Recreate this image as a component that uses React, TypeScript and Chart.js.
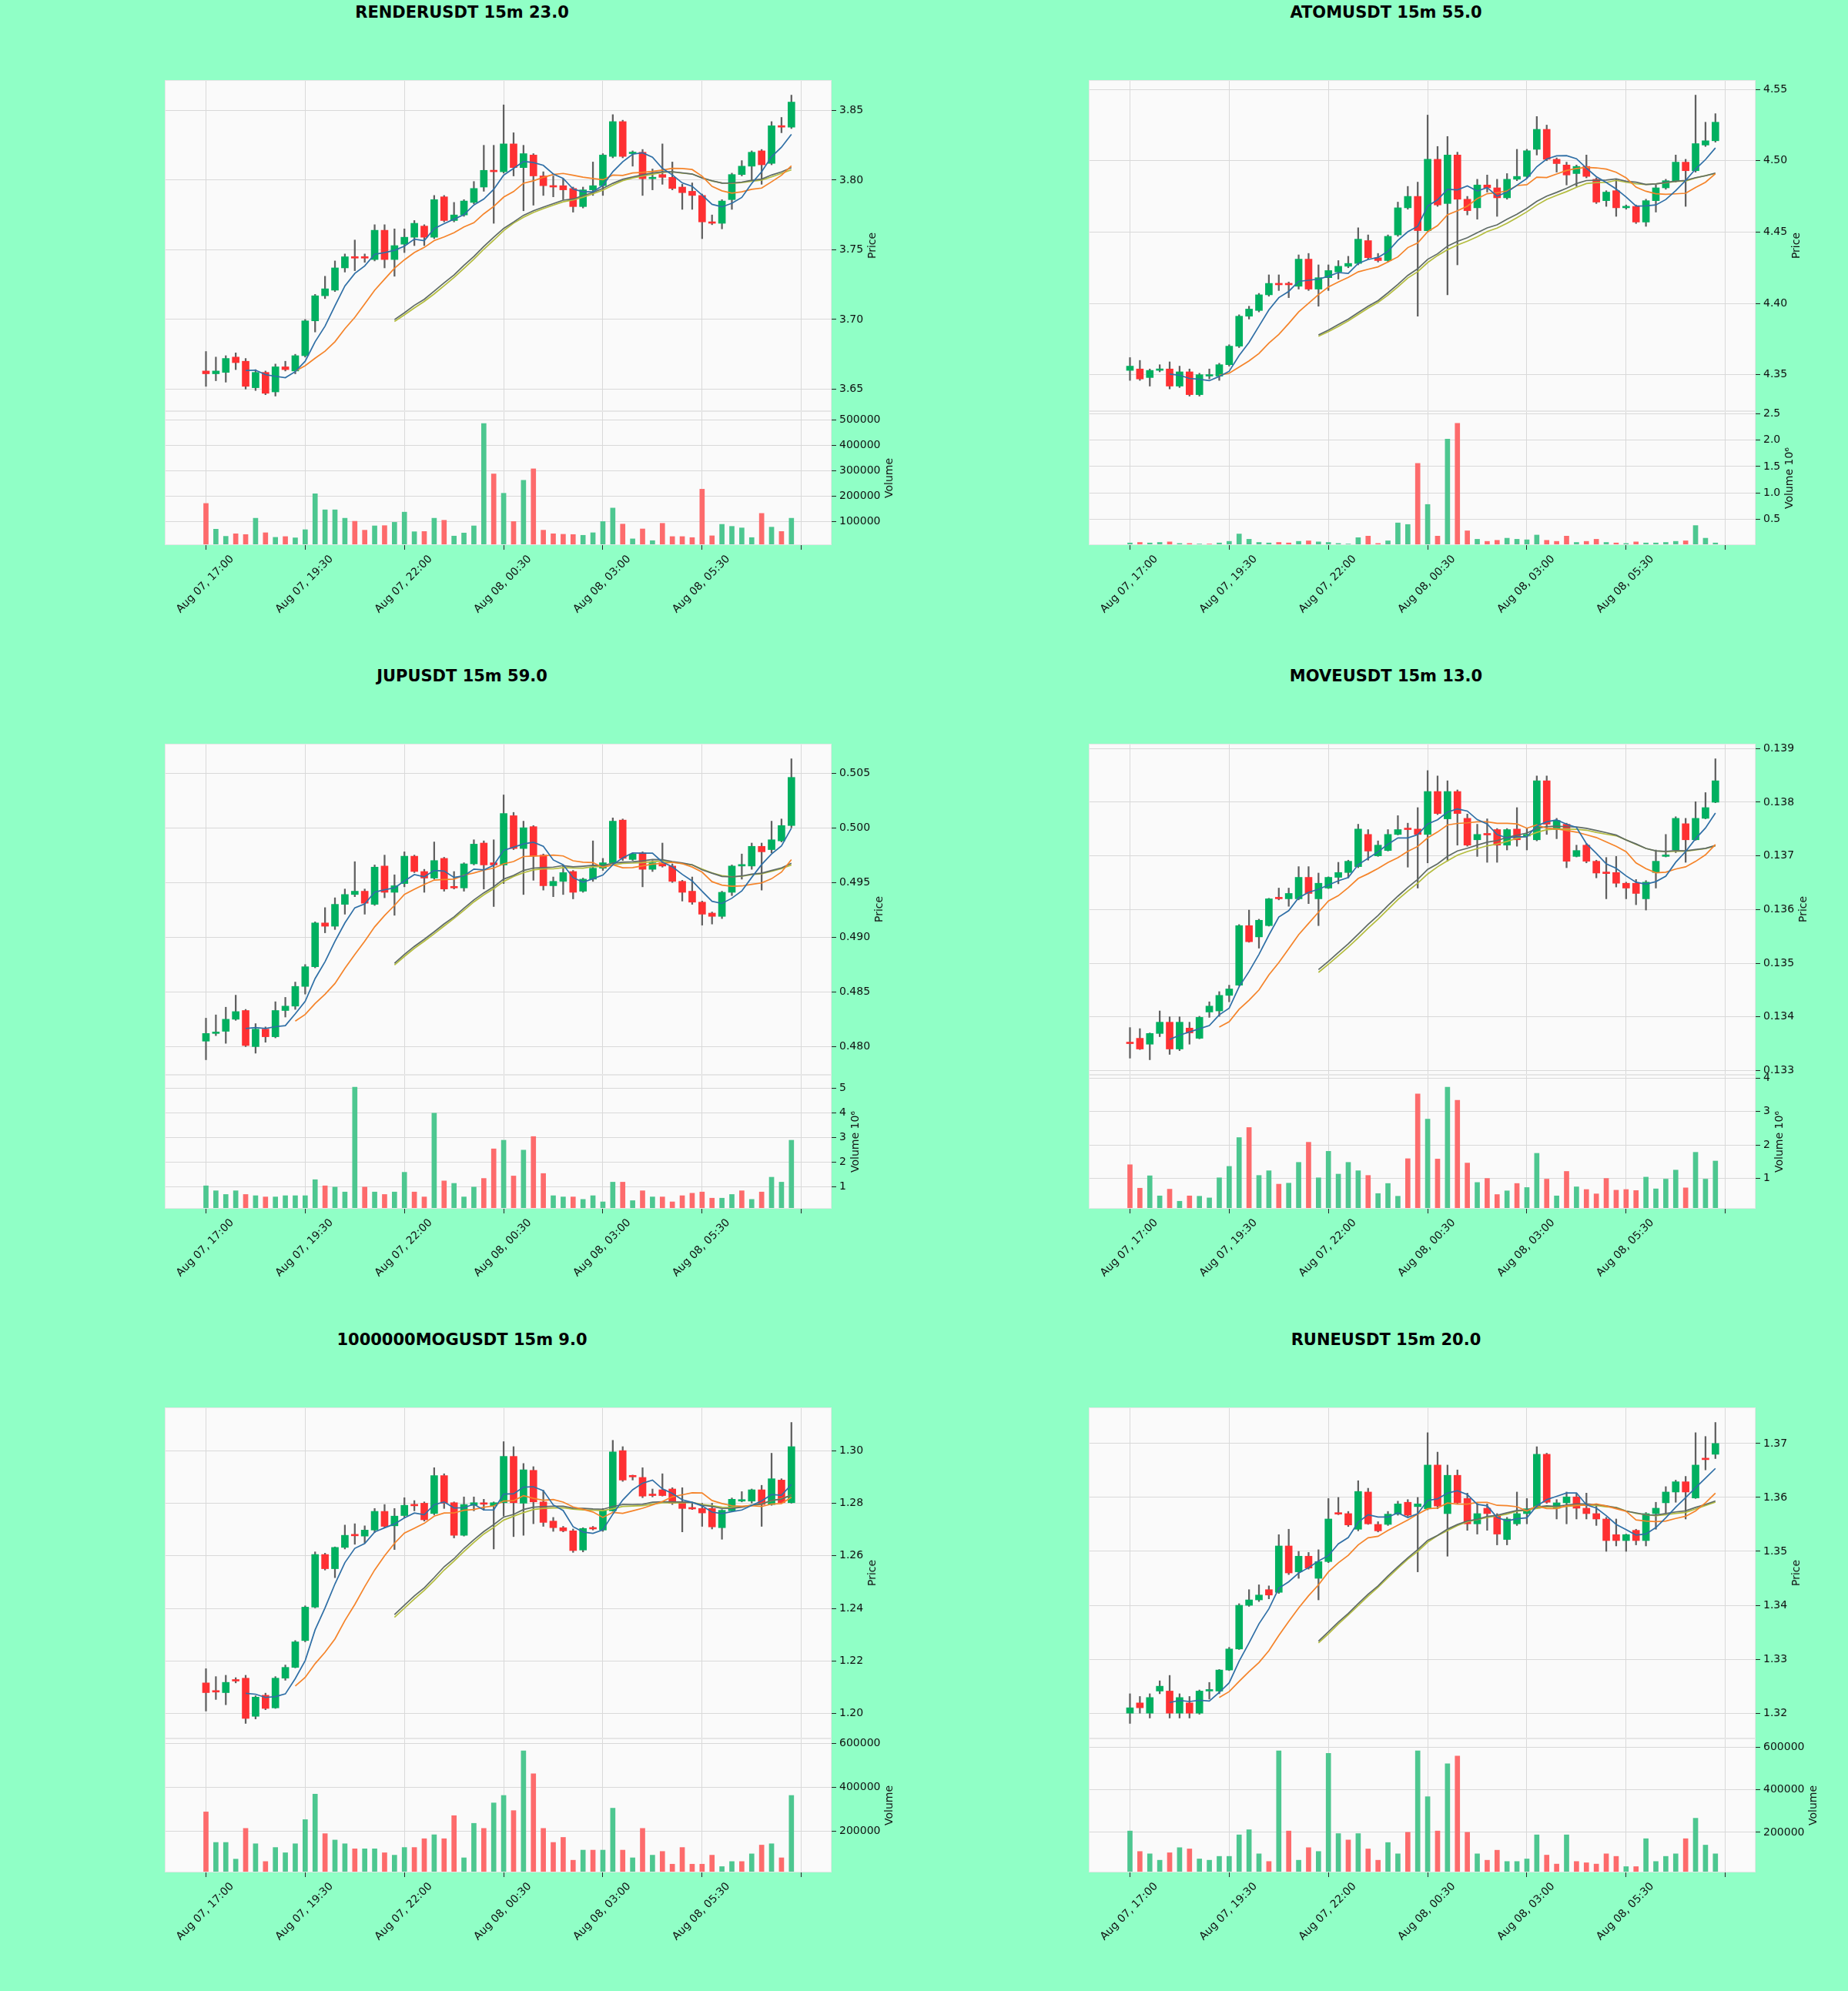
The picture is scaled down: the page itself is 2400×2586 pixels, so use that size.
import React, { useEffect, useRef } from 'react';
import { Chart, registerables } from 'chart.js';

Chart.register(...registerables);
Chart.defaults.font.family = "'DejaVu Sans', sans-serif";
Chart.defaults.font.size = 14;
Chart.defaults.color = '#101010';

const X_LABELS = ['Aug 07, 17:00', 'Aug 07, 19:30', 'Aug 07, 22:00', 'Aug 08, 00:30', 'Aug 08, 03:00', 'Aug 08, 05:30'];
const X_TICKS = [0, 10, 20, 30, 40, 50, 60];

const RENDER_OPEN = [3.663,3.661,3.662,3.673,3.670,3.651,3.662,3.648,3.666,3.663,3.674,3.699,3.717,3.721,3.737,3.745,3.745,3.743,3.764,3.743,3.754,3.759,3.767,3.759,3.788,3.771,3.775,3.784,3.795,3.807,3.806,3.826,3.809,3.818,3.803,3.796,3.796,3.794,3.781,3.793,3.796,3.817,3.842,3.819,3.820,3.801,3.804,3.802,3.795,3.792,3.789,3.770,3.769,3.786,3.804,3.810,3.821,3.812,3.839,3.838];
const RENDER_HIGH = [3.677,3.673,3.674,3.676,3.672,3.664,3.663,3.668,3.670,3.675,3.700,3.718,3.731,3.742,3.747,3.757,3.747,3.768,3.768,3.765,3.765,3.771,3.768,3.789,3.789,3.784,3.786,3.799,3.825,3.825,3.854,3.834,3.825,3.819,3.806,3.803,3.801,3.795,3.795,3.813,3.819,3.847,3.843,3.821,3.822,3.808,3.826,3.813,3.797,3.798,3.790,3.775,3.786,3.805,3.814,3.821,3.822,3.842,3.845,3.861];
const RENDER_LOW = [3.652,3.656,3.655,3.664,3.650,3.649,3.646,3.645,3.663,3.661,3.673,3.691,3.715,3.720,3.734,3.735,3.741,3.742,3.737,3.731,3.748,3.753,3.753,3.758,3.770,3.770,3.774,3.783,3.792,3.769,3.805,3.803,3.778,3.782,3.789,3.788,3.786,3.777,3.780,3.789,3.789,3.816,3.816,3.810,3.789,3.793,3.797,3.793,3.779,3.779,3.758,3.768,3.765,3.779,3.803,3.800,3.797,3.811,3.834,3.837];
const RENDER_CLOSE = [3.661,3.663,3.672,3.669,3.652,3.662,3.647,3.666,3.664,3.674,3.699,3.717,3.722,3.737,3.745,3.744,3.744,3.764,3.743,3.753,3.759,3.769,3.759,3.786,3.771,3.775,3.785,3.794,3.807,3.806,3.826,3.809,3.819,3.803,3.796,3.795,3.793,3.781,3.793,3.796,3.818,3.842,3.817,3.820,3.801,3.802,3.802,3.794,3.791,3.789,3.770,3.769,3.785,3.804,3.810,3.820,3.811,3.839,3.838,3.856];
const RENDER_VOLUME = [171000,70000,42000,52000,49000,113000,56000,38000,41000,36000,68000,209000,146000,146000,113000,101000,66000,83000,84000,97000,137000,60000,61000,113000,105000,43000,55000,83000,485000,287000,211000,100000,262000,307000,66000,52000,50000,49000,46000,56000,100000,153000,90000,32000,71000,25000,93000,41000,41000,37000,227000,44000,89000,81000,75000,37000,132000,78000,61000,113000];

const ATOM_OPEN = [4.353,4.354,4.348,4.353,4.354,4.342,4.352,4.336,4.349,4.349,4.357,4.370,4.391,4.395,4.406,4.414,4.414,4.412,4.431,4.410,4.418,4.422,4.426,4.428,4.444,4.432,4.430,4.448,4.467,4.475,4.451,4.501,4.470,4.504,4.473,4.467,4.483,4.481,4.474,4.487,4.489,4.508,4.522,4.501,4.497,4.491,4.496,4.487,4.472,4.479,4.467,4.468,4.457,4.472,4.481,4.486,4.499,4.493,4.511,4.514];
const ATOM_HIGH = [4.362,4.360,4.354,4.357,4.359,4.356,4.354,4.351,4.354,4.358,4.371,4.392,4.398,4.407,4.420,4.420,4.415,4.434,4.435,4.427,4.427,4.430,4.433,4.453,4.448,4.435,4.448,4.471,4.482,4.485,4.532,4.510,4.517,4.506,4.475,4.487,4.490,4.487,4.491,4.508,4.508,4.531,4.525,4.502,4.499,4.497,4.504,4.488,4.479,4.487,4.469,4.469,4.473,4.483,4.487,4.504,4.501,4.546,4.527,4.533];
const ATOM_LOW = [4.346,4.346,4.342,4.352,4.340,4.341,4.335,4.335,4.347,4.346,4.356,4.369,4.389,4.394,4.405,4.409,4.404,4.410,4.409,4.398,4.409,4.417,4.425,4.427,4.431,4.429,4.429,4.447,4.466,4.391,4.450,4.468,4.406,4.427,4.462,4.459,4.478,4.461,4.473,4.486,4.488,4.504,4.500,4.492,4.483,4.482,4.488,4.470,4.468,4.461,4.466,4.456,4.454,4.464,4.480,4.485,4.468,4.492,4.510,4.513];
const ATOM_CLOSE = [4.356,4.347,4.353,4.354,4.342,4.352,4.336,4.350,4.349,4.357,4.370,4.391,4.396,4.406,4.414,4.413,4.413,4.431,4.410,4.418,4.423,4.426,4.428,4.445,4.432,4.430,4.447,4.467,4.475,4.451,4.501,4.469,4.504,4.473,4.465,4.483,4.481,4.474,4.487,4.489,4.507,4.522,4.501,4.498,4.490,4.496,4.489,4.471,4.478,4.467,4.468,4.457,4.472,4.481,4.486,4.499,4.493,4.512,4.514,4.527];
const ATOM_VOLUME = [50000,60000,50000,60000,70000,40000,40000,30000,30000,50000,80000,220000,120000,60000,50000,60000,50000,80000,90000,70000,60000,40000,30000,150000,180000,40000,90000,430000,400000,1560000,780000,180000,2020000,2320000,280000,120000,80000,100000,140000,120000,110000,200000,100000,80000,180000,60000,80000,120000,60000,50000,40000,70000,50000,50000,60000,80000,90000,380000,140000,50000];

const JUP_OPEN = [0.4805,0.4812,0.4814,0.4825,0.4833,0.4800,0.4816,0.4809,0.4833,0.4837,0.4855,0.4873,0.4913,0.4910,0.4930,0.4939,0.4942,0.4930,0.4965,0.4941,0.4949,0.4974,0.4960,0.4954,0.4972,0.4946,0.4945,0.4967,0.4986,0.4968,0.4966,0.5011,0.4981,0.5001,0.4975,0.4947,0.4951,0.4960,0.4942,0.4953,0.4963,0.4968,0.5007,0.4971,0.4977,0.4962,0.4968,0.4965,0.4951,0.4942,0.4932,0.4922,0.4919,0.4941,0.4965,0.4965,0.4983,0.4980,0.4988,0.5002];
const JUP_HIGH = [0.4826,0.4829,0.4836,0.4847,0.4834,0.4821,0.4818,0.4841,0.4845,0.4859,0.4875,0.4914,0.4927,0.4936,0.4944,0.4969,0.4944,0.4966,0.4975,0.4957,0.4978,0.4975,0.4962,0.4987,0.4973,0.4960,0.4968,0.4989,0.4988,0.4989,0.5030,0.5014,0.5006,0.5002,0.4976,0.4955,0.4966,0.4961,0.4954,0.4988,0.4972,0.5009,0.5008,0.4977,0.4978,0.4970,0.4986,0.4967,0.4952,0.4955,0.4933,0.4923,0.4942,0.4966,0.4976,0.4986,0.4986,0.5006,0.5008,0.5063];
const JUP_LOW = [0.4788,0.4810,0.4803,0.4824,0.4800,0.4794,0.4804,0.4808,0.4827,0.4834,0.4848,0.4872,0.4904,0.4907,0.4921,0.4937,0.4921,0.4929,0.4936,0.4920,0.4946,0.4959,0.4941,0.4953,0.4942,0.4944,0.4942,0.4966,0.4944,0.4928,0.4949,0.4980,0.4939,0.4952,0.4943,0.4937,0.4939,0.4935,0.4941,0.4951,0.4961,0.4967,0.4970,0.4970,0.4946,0.4960,0.4964,0.4950,0.4933,0.4930,0.4911,0.4912,0.4917,0.4938,0.4953,0.4962,0.4943,0.4977,0.4987,0.5000];
const JUP_CLOSE = [0.4812,0.4813,0.4825,0.4832,0.4801,0.4816,0.4809,0.4833,0.4837,0.4855,0.4873,0.4913,0.4910,0.4930,0.4939,0.4942,0.4931,0.4964,0.4941,0.4947,0.4974,0.4960,0.4954,0.4970,0.4944,0.4945,0.4967,0.4985,0.4966,0.4966,0.5013,0.4981,0.5000,0.4974,0.4947,0.4951,0.4959,0.4941,0.4953,0.4963,0.4968,0.5006,0.4972,0.4976,0.4962,0.4968,0.4965,0.4951,0.4941,0.4932,0.4921,0.4919,0.4941,0.4965,0.4965,0.4983,0.4978,0.4989,0.5002,0.5046];
const JUP_VOLUME = [1050000,850000,700000,850000,700000,650000,600000,600000,650000,650000,650000,1300000,1050000,1000000,800000,5050000,1000000,800000,700000,800000,1600000,800000,600000,4000000,1250000,1150000,600000,1000000,1350000,2550000,2900000,1450000,2500000,3050000,1550000,650000,600000,600000,500000,650000,400000,1200000,1200000,450000,850000,600000,600000,400000,650000,750000,800000,550000,550000,700000,850000,500000,800000,1400000,1200000,2900000];

const MOVE_OPEN = [0.13352,0.13360,0.13349,0.13369,0.13390,0.13340,0.13379,0.13360,0.13409,0.13411,0.13440,0.13459,0.13570,0.13549,0.13570,0.13621,0.13620,0.13620,0.13660,0.13620,0.13640,0.13660,0.13669,0.13680,0.13740,0.13700,0.13710,0.13740,0.13750,0.13750,0.13740,0.13820,0.13769,0.13820,0.13770,0.13730,0.13740,0.13749,0.13720,0.13750,0.13737,0.13730,0.13840,0.13749,0.13759,0.13699,0.13720,0.13690,0.13670,0.13669,0.13649,0.13649,0.13620,0.13669,0.13699,0.13711,0.13760,0.13730,0.13770,0.13800];
const MOVE_HIGH = [0.13380,0.13378,0.13370,0.13411,0.13400,0.13400,0.13390,0.13401,0.13428,0.13447,0.13459,0.13572,0.13599,0.13582,0.13621,0.13640,0.13640,0.13680,0.13680,0.13668,0.13661,0.13688,0.13692,0.13759,0.13749,0.13728,0.13749,0.13775,0.13761,0.13790,0.13859,0.13849,0.13840,0.13823,0.13778,0.13759,0.13769,0.13751,0.13751,0.13790,0.13751,0.13849,0.13849,0.13770,0.13761,0.13720,0.13723,0.13692,0.13697,0.13699,0.13651,0.13656,0.13654,0.13711,0.13740,0.13773,0.13770,0.13801,0.13818,0.13881];
const MOVE_LOW = [0.13323,0.13339,0.13320,0.13363,0.13330,0.13337,0.13349,0.13359,0.13399,0.13401,0.13428,0.13458,0.13539,0.13528,0.13569,0.13618,0.13606,0.13618,0.13611,0.13570,0.13639,0.13648,0.13659,0.13678,0.13692,0.13699,0.13709,0.13739,0.13679,0.13640,0.13687,0.13777,0.13690,0.13720,0.13718,0.13699,0.13688,0.13688,0.13711,0.13718,0.13711,0.13728,0.13740,0.13732,0.13678,0.13698,0.13687,0.13659,0.13620,0.13642,0.13620,0.13609,0.13599,0.13640,0.13698,0.13706,0.13688,0.13729,0.13769,0.13799];
const MOVE_CLOSE = [0.13350,0.13340,0.13369,0.13390,0.13340,0.13390,0.13370,0.13399,0.13420,0.13440,0.13452,0.13570,0.13540,0.13580,0.13620,0.13620,0.13630,0.13660,0.13630,0.13649,0.13660,0.13669,0.13690,0.13750,0.13709,0.13720,0.13740,0.13749,0.13749,0.13740,0.13820,0.13779,0.13820,0.13779,0.13720,0.13740,0.13739,0.13720,0.13749,0.13730,0.13740,0.13840,0.13759,0.13766,0.13690,0.13710,0.13690,0.13668,0.13667,0.13649,0.13640,0.13630,0.13651,0.13690,0.13700,0.13770,0.13730,0.13770,0.13790,0.13840];
const MOVE_VOLUME = [1410000,710000,1080000,480000,680000,320000,480000,470000,420000,1020000,1360000,2220000,2520000,1090000,1230000,830000,860000,1480000,2080000,1020000,1810000,1130000,1480000,1230000,1090000,550000,850000,470000,1590000,3520000,2770000,1580000,3720000,3330000,1460000,880000,1000000,520000,630000,850000,730000,1750000,980000,480000,1210000,750000,670000,540000,1000000,650000,670000,640000,1040000,690000,980000,1250000,720000,1780000,980000,1520000];

const MOG_OPEN = [1.2117,1.2088,1.2080,1.2127,1.2135,1.1990,1.2070,1.2022,1.2135,1.2176,1.2278,1.2405,1.2605,1.2551,1.2632,1.2678,1.2675,1.2698,1.2769,1.2714,1.2753,1.2795,1.2800,1.2761,1.2905,1.2802,1.2678,1.2792,1.2800,1.2790,1.2802,1.2978,1.2800,1.2925,1.2805,1.2732,1.2707,1.2695,1.2622,1.2707,1.2698,1.2771,1.3000,1.2902,1.2898,1.2831,1.2851,1.2854,1.2802,1.2780,1.2780,1.2780,1.2707,1.2771,1.2808,1.2808,1.2851,1.2795,1.2888,1.2802];
const MOG_HIGH = [1.2171,1.2141,1.2146,1.2137,1.2146,1.2068,1.2078,1.2141,1.2185,1.2278,1.2410,1.2615,1.2610,1.2634,1.2717,1.2722,1.2714,1.2780,1.2795,1.2780,1.2821,1.2810,1.2805,1.2935,1.2912,1.2805,1.2824,1.2824,1.2815,1.2805,1.3034,1.3015,1.2951,1.2939,1.2849,1.2746,1.2712,1.2702,1.2707,1.2712,1.2780,1.3039,1.3015,1.2907,1.2935,1.2854,1.2912,1.2859,1.2859,1.2800,1.2800,1.2800,1.2776,1.2820,1.2844,1.2854,1.2868,1.2990,1.2893,1.3107];
const MOG_LOW = [1.2010,1.2054,1.2034,1.2117,1.1963,1.1980,1.2015,1.2020,1.2127,1.2174,1.2273,1.2402,1.2546,1.2517,1.2626,1.2644,1.2649,1.2688,1.2707,1.2624,1.2746,1.2771,1.2732,1.2756,1.2780,1.2668,1.2675,1.2771,1.2773,1.2626,1.2751,1.2673,1.2678,1.2722,1.2712,1.2693,1.2691,1.2613,1.2615,1.2698,1.2693,1.2769,1.2883,1.2888,1.2821,1.2824,1.2827,1.2795,1.2691,1.2776,1.2712,1.2702,1.2663,1.2769,1.2805,1.2800,1.2712,1.2792,1.2800,1.2800];
const MOG_CLOSE = [1.2080,1.2082,1.2119,1.2124,1.1982,1.2063,1.2020,1.2135,1.2176,1.2273,1.2405,1.2605,1.2551,1.2632,1.2678,1.2676,1.2698,1.2769,1.2712,1.2751,1.2792,1.2790,1.2737,1.2905,1.2800,1.2678,1.2795,1.2802,1.2796,1.2802,1.2978,1.2802,1.2927,1.2805,1.2727,1.2707,1.2695,1.2620,1.2704,1.2702,1.2771,1.2995,1.2888,1.2900,1.2827,1.2829,1.2829,1.2800,1.2780,1.2778,1.2763,1.2710,1.2773,1.2815,1.2810,1.2851,1.2795,1.2893,1.2802,1.3015];
const MOG_VOLUME = [287000,148000,148000,72000,212000,142000,61000,125000,101000,142000,252000,368000,188000,159000,142000,119000,119000,119000,101000,90000,125000,125000,165000,183000,165000,270000,78000,235000,212000,328000,362000,293000,565000,461000,212000,148000,171000,67000,113000,113000,113000,304000,113000,78000,212000,90000,107000,49000,125000,49000,49000,90000,38000,61000,61000,96000,136000,142000,78000,362000];

const RUNE_OPEN = [1.3200,1.3219,1.3200,1.3241,1.3241,1.3200,1.3219,1.3200,1.3241,1.3241,1.3280,1.3319,1.3400,1.3410,1.3429,1.3424,1.3510,1.3462,1.3491,1.3450,1.3481,1.3571,1.3570,1.3541,1.3610,1.3550,1.3550,1.3569,1.3591,1.3583,1.3579,1.3660,1.3570,1.3641,1.3598,1.3551,1.3580,1.3567,1.3522,1.3551,1.3570,1.3580,1.3680,1.3580,1.3590,1.3601,1.3580,1.3570,1.3560,1.3531,1.3520,1.3539,1.3520,1.3570,1.3590,1.3610,1.3629,1.3599,1.3671,1.3680];
const RUNE_HIGH = [1.3236,1.3231,1.3236,1.3260,1.3270,1.3236,1.3231,1.3243,1.3257,1.3281,1.3322,1.3403,1.3429,1.3438,1.3436,1.3531,1.3541,1.3500,1.3498,1.3503,1.3598,1.3600,1.3574,1.3631,1.3617,1.3555,1.3574,1.3593,1.3596,1.3600,1.3720,1.3684,1.3660,1.3651,1.3608,1.3589,1.3588,1.3570,1.3563,1.3610,1.3598,1.3694,1.3682,1.3596,1.3610,1.3608,1.3608,1.3584,1.3563,1.3560,1.3532,1.3541,1.3572,1.3591,1.3620,1.3632,1.3639,1.3720,1.3713,1.3739];
const RUNE_LOW = [1.3181,1.3200,1.3191,1.3236,1.3191,1.3191,1.3191,1.3198,1.3226,1.3236,1.3279,1.3318,1.3398,1.3407,1.3412,1.3422,1.3457,1.3450,1.3467,1.3410,1.3479,1.3568,1.3546,1.3538,1.3550,1.3536,1.3548,1.3567,1.3565,1.3462,1.3577,1.3579,1.3491,1.3589,1.3539,1.3532,1.3539,1.3512,1.3512,1.3548,1.3551,1.3579,1.3589,1.3560,1.3551,1.3560,1.3560,1.3548,1.3500,1.3510,1.3500,1.3512,1.3510,1.3541,1.3570,1.3591,1.3560,1.3598,1.3651,1.3672];
const RUNE_CLOSE = [1.3210,1.3210,1.3229,1.3250,1.3200,1.3229,1.3200,1.3241,1.3242,1.3280,1.3319,1.3400,1.3410,1.3419,1.3419,1.3510,1.3460,1.3491,1.3469,1.3481,1.3560,1.3569,1.3549,1.3611,1.3551,1.3538,1.3569,1.3588,1.3567,1.3588,1.3660,1.3584,1.3641,1.3590,1.3551,1.3570,1.3570,1.3532,1.3560,1.3570,1.3579,1.3680,1.3591,1.3590,1.3601,1.3580,1.3570,1.3560,1.3520,1.3520,1.3531,1.3520,1.3570,1.3580,1.3610,1.3629,1.3610,1.3660,1.3670,1.3700];
const RUNE_VOLUME = [206000,110000,99000,69000,104000,128000,122000,75000,69000,87000,87000,188000,212000,99000,63000,582000,206000,69000,128000,110000,570000,194000,164000,194000,122000,69000,152000,99000,200000,582000,367000,206000,522000,558000,200000,99000,69000,116000,63000,63000,75000,188000,93000,51000,188000,63000,57000,51000,99000,87000,39000,39000,170000,63000,87000,99000,170000,266000,140000,99000];

type PanelSpec = {
  title: string;
  open: number[]; high: number[]; low: number[]; close: number[]; volume: number[];
  priceStep: number; priceDecimals: number;
  volStep: number; volScale: number; volDecimals: number;
};

const PANELS: PanelSpec[] = [
  { title: 'RENDERUSDT 15m 23.0', open: RENDER_OPEN, high: RENDER_HIGH, low: RENDER_LOW, close: RENDER_CLOSE, volume: RENDER_VOLUME, priceStep: 0.05, priceDecimals: 2, volStep: 100000, volScale: 1, volDecimals: 0 },
  { title: 'ATOMUSDT 15m 55.0', open: ATOM_OPEN, high: ATOM_HIGH, low: ATOM_LOW, close: ATOM_CLOSE, volume: ATOM_VOLUME, priceStep: 0.05, priceDecimals: 2, volStep: 500000, volScale: 1e6, volDecimals: 1 },
  { title: 'JUPUSDT 15m 59.0', open: JUP_OPEN, high: JUP_HIGH, low: JUP_LOW, close: JUP_CLOSE, volume: JUP_VOLUME, priceStep: 0.005, priceDecimals: 3, volStep: 1000000, volScale: 1e6, volDecimals: 0 },
  { title: 'MOVEUSDT 15m 13.0', open: MOVE_OPEN, high: MOVE_HIGH, low: MOVE_LOW, close: MOVE_CLOSE, volume: MOVE_VOLUME, priceStep: 0.001, priceDecimals: 3, volStep: 1000000, volScale: 1e6, volDecimals: 0 },
  { title: '1000000MOGUSDT 15m 9.0', open: MOG_OPEN, high: MOG_HIGH, low: MOG_LOW, close: MOG_CLOSE, volume: MOG_VOLUME, priceStep: 0.02, priceDecimals: 2, volStep: 200000, volScale: 1, volDecimals: 0 },
  { title: 'RUNEUSDT 15m 20.0', open: RUNE_OPEN, high: RUNE_HIGH, low: RUNE_LOW, close: RUNE_CLOSE, volume: RUNE_VOLUME, priceStep: 0.01, priceDecimals: 2, volStep: 200000, volScale: 1, volDecimals: 0 },
];

const MINT = '#90ffc6';
const FACE = '#fafafa';
const GRID = '#d9d9d9';
const TICK_COLOR = '#222222';
const UP = '#00b060';
const DOWN = '#fe3032';
const WICK = '#606060';
const VOL_UP = '#4dc790';
const VOL_DOWN = '#fd6b6c';

const CELL_W = 1200;
const CELL_H = 862;
const PLOT_LEFT = 214;
const PLOT_W = 866;
const AXIS_W = 120;
const PRICE_TOP = 104;
const PRICE_BOTTOM = 534;
const VOL_BOTTOM = 708;
const PAD = 12;
const X_AXIS_H = 140;
const X_MIN = -4.15;
const X_MAX = 63.05;

function sma(src: number[], n: number): (number | null)[] {
  return src.map((_, i) => {
    if (i < n - 1) return null;
    let s = 0;
    for (let k = i - n + 1; k <= i; k++) s += src[k];
    return s / n;
  });
}

function stepTicks(min: number, max: number, step: number): number[] {
  const out: number[] = [];
  for (let k = Math.ceil(min / step - 1e-9); k * step <= max + 1e-12; k++) {
    out.push(Number((k * step).toFixed(10)));
  }
  return out;
}

function textWidth(s: string): number {
  let w = 0;
  for (const ch of s) w += ch === '.' ? 4.45 : 8.9;
  return w;
}

const plotBg = {
  id: 'plotBg',
  beforeDraw(chart: any) {
    const { ctx, chartArea: a } = chart;
    ctx.save();
    ctx.fillStyle = FACE;
    ctx.fillRect(a.left, a.top, a.right - a.left, a.bottom - a.top);
    ctx.restore();
  },
  afterDraw(chart: any) {
    const { ctx, chartArea: a } = chart;
    ctx.save();
    ctx.strokeStyle = '#e6e6e6';
    ctx.lineWidth = 1;
    ctx.strokeRect(a.left + 0.5, a.top + 0.5, a.right - a.left - 1, a.bottom - a.top - 1);
    ctx.restore();
  },
};

function xScale(showLabels: boolean) {
  return {
    type: 'linear',
    min: X_MIN,
    max: X_MAX,
    offset: false,
    afterBuildTicks: (s: any) => { s.ticks = X_TICKS.map((v) => ({ value: v })); },
    afterFit: (s: any) => { s.height = showLabels ? X_AXIS_H : 0; s.paddingLeft = 0; s.paddingRight = 0; },
    grid: { color: GRID, offset: false, drawTicks: showLabels, tickLength: 6, tickColor: TICK_COLOR },
    border: { display: false },
    ticks: {
      display: showLabels,
      autoSkip: false,
      maxRotation: 45,
      minRotation: 45,
      labelOffset: 34,
      padding: 4,
      color: '#101010',
      font: { size: 14 },
      callback: (v: any) => X_LABELS[Math.round(Number(v) / 10)] ?? '',
    },
  };
}

function Panel({ spec, left, top }: { spec: PanelSpec; left: number; top: number }) {
  const priceRef = useRef<HTMLCanvasElement>(null);
  const volRef = useRef<HTMLCanvasElement>(null);

  const hi = Math.max(...spec.high);
  const lo = Math.min(...spec.low);
  const yMin = lo - (hi - lo) * 0.05;
  const yMax = hi + (hi - lo) * 0.05;
  const vMin = Math.min(...spec.volume) * 0.3;
  const vMax = Math.max(...spec.volume) * 1.1;
  const priceTicks = stepTicks(yMin, yMax, spec.priceStep);
  const volTicks = stepTicks(vMin, vMax, spec.volStep).filter((v) => v > 0);
  const priceLabels = priceTicks.map((v) => v.toFixed(spec.priceDecimals));
  const volLabels = volTicks.map((v) => (v / spec.volScale).toFixed(spec.volDecimals));
  const priceLabelW = Math.max(...priceLabels.map(textWidth));
  const volLabelW = Math.max(...volLabels.map(textWidth));

  useEffect(() => {
    const n = spec.close.length;
    const idx = Array.from({ length: n }, (_, i) => i);
    const typical = idx.map((i) => (spec.high[i] + spec.low[i] + spec.close[i]) / 3);
    const ma5 = sma(spec.close, 5);
    const ma10 = sma(spec.close, 10);
    const ma20 = sma(spec.close, 20);
    const ma20t = sma(typical, 20);
    const candleColors = idx.map((i) => (spec.close[i] >= spec.open[i] ? UP : DOWN));
    const volColors = idx.map((i) => {
      const up = i === 0 ? spec.close[0] >= spec.open[0] : spec.close[i] > spec.close[i - 1];
      return up ? VOL_UP : VOL_DOWN;
    });
    const line = (data: (number | null)[], color: string, order: number) => ({
      type: 'line',
      data: data.map((v, i) => ({ x: i, y: v })),
      borderColor: color,
      borderWidth: 1.7,
      pointRadius: 0,
      tension: 0,
      spanGaps: false,
      order,
    });

    const priceChart = new Chart(priceRef.current as HTMLCanvasElement, {
      type: 'bar',
      data: {
        datasets: [
          line(ma5, '#2f6fa6', 0),
          line(ma10, '#f5842a', 1),
          line(ma20t, '#b4bd3e', 2),
          line(ma20, '#5f6b66', 1.5),
          {
            type: 'bar',
            data: idx.map((i) => ({ x: i, y: [spec.open[i], spec.close[i]] })),
            backgroundColor: candleColors,
            barThickness: 9,
            grouped: false,
            minBarLength: 2,
            borderWidth: 0,
            order: 5,
          },
          {
            type: 'bar',
            data: idx.map((i) => ({ x: i, y: [spec.low[i], spec.high[i]] })),
            backgroundColor: WICK,
            barThickness: 1.6,
            grouped: false,
            borderWidth: 0,
            order: 6,
          },
        ] as any,
      },
      options: {
        responsive: false,
        animation: false,
        events: [],
        layout: { padding: { top: PAD, bottom: PAD, left: 0, right: 0 } },
        plugins: { legend: { display: false }, tooltip: { enabled: false } },
        scales: {
          x: xScale(false) as any,
          y: {
            type: 'linear',
            position: 'right',
            min: yMin,
            max: yMax,
            afterBuildTicks: (s: any) => { s.ticks = priceTicks.map((v) => ({ value: v })); },
            afterFit: (s: any) => { s.width = AXIS_W; s.paddingTop = 0; s.paddingBottom = 0; },
            grid: { color: GRID, tickLength: 6, tickColor: TICK_COLOR },
            border: { display: false },
            ticks: { padding: 4, color: '#101010', font: { size: 14 }, callback: (v: any) => Number(v).toFixed(spec.priceDecimals) },
          } as any,
        },
      },
      plugins: [plotBg],
    });

    const volChart = new Chart(volRef.current as HTMLCanvasElement, {
      type: 'bar',
      data: {
        datasets: [
          {
            data: idx.map((i) => ({ x: i, y: spec.volume[i] })),
            backgroundColor: volColors,
            barThickness: 6,
            grouped: false,
            borderWidth: 0,
          },
        ] as any,
      },
      options: {
        responsive: false,
        animation: false,
        events: [],
        layout: { padding: { top: PAD, bottom: 0, left: 0, right: 0 } },
        plugins: { legend: { display: false }, tooltip: { enabled: false } },
        scales: {
          x: xScale(true) as any,
          y: {
            type: 'linear',
            position: 'right',
            min: vMin,
            max: vMax,
            afterBuildTicks: (s: any) => { s.ticks = volTicks.map((v) => ({ value: v })); },
            afterFit: (s: any) => { s.width = AXIS_W; s.paddingTop = 0; s.paddingBottom = 0; },
            grid: { color: GRID, tickLength: 6, tickColor: TICK_COLOR },
            border: { display: false },
            ticks: { padding: 4, color: '#101010', font: { size: 14 }, callback: (v: any) => (Number(v) / spec.volScale).toFixed(spec.volDecimals) },
          } as any,
        },
      },
      plugins: [plotBg],
    });

    return () => {
      priceChart.destroy();
      volChart.destroy();
    };
  }, [spec]);

  const priceCanvasH = PRICE_BOTTOM - PRICE_TOP + 2 * PAD;
  const volCanvasH = VOL_BOTTOM - PRICE_BOTTOM + PAD + X_AXIS_H;
  const canvasW = PLOT_W + AXIS_W;
  const axisTextStyle: React.CSSProperties = {
    position: 'absolute',
    transform: 'translate(-50%, -50%) rotate(-90deg)',
    whiteSpace: 'nowrap',
    fontFamily: "'DejaVu Sans', sans-serif",
    fontSize: 14,
    color: '#101010',
    lineHeight: '16px',
  };

  return (
    <div style={{ position: 'absolute', left, top, width: CELL_W, height: CELL_H }}>
      <div
        style={{
          position: 'absolute', left: 0, top: 4, width: CELL_W, textAlign: 'center',
          fontFamily: "'DejaVu Sans', sans-serif", fontWeight: 'bold', fontSize: 21, lineHeight: '24px', color: '#000',
        }}
      >
        {spec.title}
      </div>
      <canvas
        ref={priceRef}
        width={canvasW}
        height={priceCanvasH}
        style={{ position: 'absolute', left: PLOT_LEFT, top: PRICE_TOP - PAD, width: canvasW, height: priceCanvasH }}
      />
      <canvas
        ref={volRef}
        width={canvasW}
        height={volCanvasH}
        style={{ position: 'absolute', left: PLOT_LEFT, top: PRICE_BOTTOM - PAD, width: canvasW, height: volCanvasH }}
      />
      <div style={{ ...axisTextStyle, left: PLOT_LEFT + PLOT_W + 21 + priceLabelW, top: (PRICE_TOP + PRICE_BOTTOM) / 2 }}>Price</div>
      <div style={{ ...axisTextStyle, left: PLOT_LEFT + PLOT_W + 21 + volLabelW, top: (PRICE_BOTTOM + VOL_BOTTOM) / 2 }}>
        {spec.volScale === 1 ? 'Volume' : 'Volume  10⁶'}
      </div>
    </div>
  );
}

export default function App() {
  return (
    <div style={{ position: 'absolute', left: 0, top: 0, width: 2400, height: 2586, background: MINT, overflow: 'hidden' }}>
      {PANELS.map((p, k) => (
        <Panel key={k} spec={p} left={(k % 2) * CELL_W} top={Math.floor(k / 2) * CELL_H} />
      ))}
    </div>
  );
}
